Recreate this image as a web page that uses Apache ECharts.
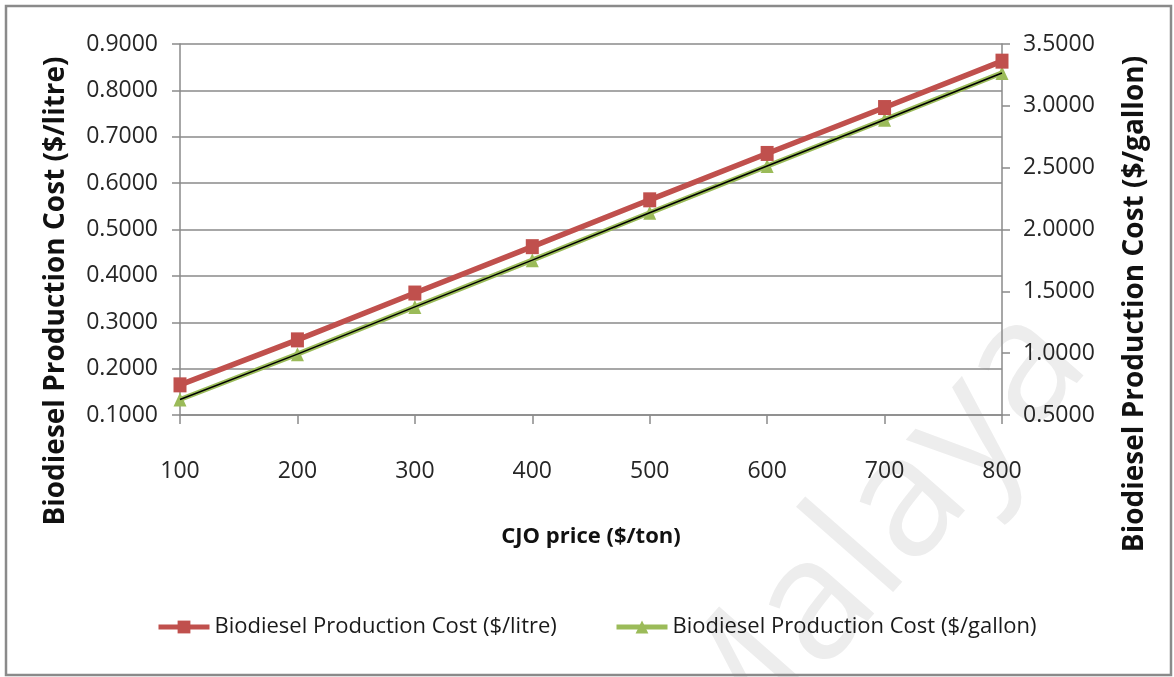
<!DOCTYPE html>
<html>
<head>
<meta charset="utf-8">
<script src="https://cdn.jsdelivr.net/npm/echarts@6/dist/echarts.min.js"></script>
<style>
  html, body { margin: 0; padding: 0; background: #fff; }
  #chart { width: 1174px; height: 677px; }
</style>
</head>
<body>
<div id="chart"></div>
<script>
// CJO price ($/ton)
const cjoPrice = ['100', '200', '300', '400', '500', '600', '700', '800']
// Biodiesel production cost
const costPerLitre = [0.165, 0.262, 0.363, 0.463, 0.564, 0.664, 0.763, 0.863]
const costPerGallon = [0.625, 0.992, 1.374, 1.752, 2.135, 2.513, 2.888, 3.266]
// axis ranges
const litreTicks = { min: 0.1, max: 0.9, step: 0.1 }
const gallonTicks = { min: 0.5, max: 3.5, step: 0.5 }

const font = "'Open Sans', 'DejaVu Sans', sans-serif"
const gridColor = '#8a8a8a'
const red = '#C0504D'
const green = '#9BBB59'

const chart = echarts.init(document.getElementById('chart'))

const legendBase = {
    top: 616,
    padding: 0,
    itemWidth: 51, itemHeight: 16, itemGap: 0,
    lineStyle: { width: 5 },
    textStyle: { fontFamily: font, fontSize: 22, color: '#1a1a1a' },
}

const option = {
    backgroundColor: '#fff',
    animation: false,
    grid: { left: 180, right: 172, top: 44, bottom: 262 },
    legend: [
        { ...legendBase, data: ['Biodiesel Production Cost ($/litre)'], left: 156 },
        { ...legendBase, data: ['Biodiesel Production Cost ($/gallon)'], left: 614 },
    ],
    xAxis: {
        type: 'category',
        data: cjoPrice,
        boundaryGap: false,
        axisLine: { lineStyle: { color: gridColor, width: 1.5 } },
        axisTick: { show: true, length: 9, lineStyle: { color: gridColor, width: 1.5 } },
        axisLabel: { margin: 45, fontFamily: font, fontSize: 23, color: '#262626' },
    },
    yAxis: [
        {
            type: 'value',
            min: litreTicks.min, max: litreTicks.max, interval: litreTicks.step,
            axisLine: { show: true, lineStyle: { color: gridColor, width: 1.5 } },
            axisTick: { show: true, length: 8, lineStyle: { color: gridColor, width: 1.5 } },
            splitLine: { lineStyle: { color: gridColor, width: 1.5 } },
            axisLabel: {
                margin: 22, fontFamily: font, fontSize: 23, color: '#262626',
                formatter: (v) => v.toFixed(4),
            },
        },
        {
            type: 'value',
            position: 'right',
            min: gallonTicks.min, max: gallonTicks.max, interval: gallonTicks.step,
            axisLine: { show: true, lineStyle: { color: gridColor, width: 1.5 } },
            axisTick: { show: true, length: 8, lineStyle: { color: gridColor, width: 1.5 } },
            splitLine: { show: false },
            axisLabel: {
                margin: 21, fontFamily: font, fontSize: 23, color: '#262626',
                formatter: (v) => v.toFixed(4),
            },
        },
    ],
    series: [
        {
            name: 'Biodiesel Production Cost ($/gallon)',
            type: 'line',
            yAxisIndex: 1,
            data: costPerGallon,
            symbol: 'triangle',
            symbolSize: [13, 14],
            lineStyle: { color: green, width: 5 },
            itemStyle: { color: green },
            z: 3,
        },
        {
            // linear trend line over the gallon series
            name: 'trend',
            type: 'line',
            yAxisIndex: 1,
            data: costPerGallon,
            symbol: 'none',
            lineStyle: { color: '#000', width: 1.5 },
            z: 4,
        },
        {
            name: 'Biodiesel Production Cost ($/litre)',
            type: 'line',
            yAxisIndex: 0,
            data: costPerLitre,
            symbol: 'rect',
            symbolSize: [13, 15],
            lineStyle: { color: red, width: 5.5 },
            itemStyle: { color: red },
            z: 5,
        },
    ],
    graphic: [
        {
            type: 'text', z: -10, silent: true,
            x: 870, y: 545, rotation: 0.85,
            style: {
                text: 'Malaya', fill: '#ededed',
                font: '170px ' + font,
                textAlign: 'center', textVerticalAlign: 'middle',
            },
        },
        {
            type: 'rect', z: 100, silent: true,
            shape: { x: 6, y: 6, width: 1165, height: 669 },
            style: { fill: 'none', stroke: '#8a8a8a', lineWidth: 2.5 },
        },
        {
            type: 'text', z: 10,
            x: 56, y: 291, rotation: Math.PI / 2,
            style: {
                text: 'Biodiesel Production Cost ($/litre)', fill: '#111',
                font: 'bold 28px ' + font,
                textAlign: 'center', textVerticalAlign: 'middle',
            },
        },
        {
            type: 'text', z: 10,
            x: 1135, y: 304, rotation: Math.PI / 2,
            style: {
                text: 'Biodiesel Production Cost ($/gallon)', fill: '#111',
                font: 'bold 28px ' + font,
                textAlign: 'center', textVerticalAlign: 'middle',
            },
        },
        {
            type: 'text', z: 10,
            x: 591, y: 537,
            style: {
                text: 'CJO price ($/ton)', fill: '#111',
                font: 'bold 22px ' + font,
                textAlign: 'center', textVerticalAlign: 'middle',
            },
        },
    ],
}

chart.setOption(option)
</script>
</body>
</html>
